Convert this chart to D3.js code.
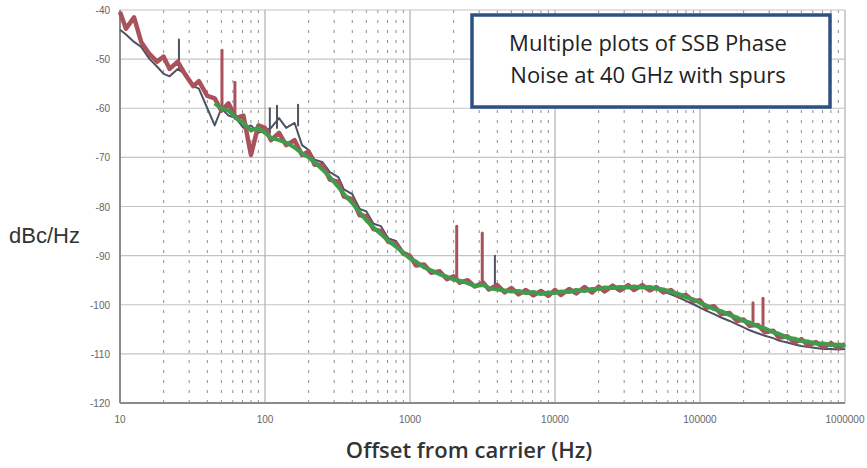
<!DOCTYPE html>
<html>
<head>
<meta charset="utf-8">
<script src="https://cdn.jsdelivr.net/npm/d3@7"></script>
<style>
  body { margin: 0; background: #fff; }
  svg { display: block; }
</style>
</head>
<body>
<div id="chart"></div>
<script>
// Offset frequencies (Hz) shared by all traces
const freqs = [
  10, 11, 12.5, 14, 16, 18, 20, 22, 25, 28, 32, 35, 40, 45, 50, 56, 63, 71, 80, 90,
  100, 110, 125, 140, 160, 180, 200, 220, 250, 280, 320, 350, 400, 450, 500, 560, 630, 710, 800, 900,
  1000, 1100, 1250, 1400, 1600, 1800, 2000, 2200, 2500, 2800, 3200, 3500, 4000, 4500, 5000, 5600, 6300, 7100, 8000, 9000,
  10000, 11000, 12500, 14000, 16000, 18000, 20000, 22000, 25000, 28000, 32000, 35000, 40000, 45000, 50000, 56000, 63000, 71000, 80000, 90000,
  100000, 110000, 125000, 140000, 160000, 180000, 200000, 220000, 250000, 280000, 320000, 350000, 400000, 450000, 500000, 560000, 630000, 710000, 800000, 900000,
  1000000
];

// dBc/Hz per trace
const greyTrace = [
  -44, -45, -46.5, -47.5, -50, -51.5, -53, -53.5, -52, -53, -55.5, -56, -60, -63.5, -60, -61.5, -62, -64, -63.5, -65,
  -64.5, -64, -62, -64, -63, -67.5, -68.5, -70.5, -71, -73, -74, -76.5, -77.5, -80.5, -81, -83.5, -84, -86.5, -87, -89.2,
  -89.8, -91.4, -91.9, -93.3, -93, -94.8, -94.5, -95.6, -95.4, -96, -96.1, -96.5, -96.8, -97.1, -97.3, -97.5, -97.7, -97.8, -97.8, -97.9,
  -97.6, -97.5, -97.3, -97.2, -97, -96.9, -96.8, -96.7, -96.6, -96.5, -96.5, -96.4, -96.5, -96.6, -96.9, -97.3, -97.9, -98.5, -99.2, -99.9,
  -100.6, -101.2, -101.9, -102.6, -103.3, -104, -104.6, -105.2, -105.8, -106.3, -106.8, -107.3, -107.7, -108.1, -108.4, -108.6, -108.8, -109, -109, -109.1,
  -109
];

const redTrace = [
  -40.4, -43.8, -41.5, -46.5, -49, -50.5, -49.5, -52, -50.5, -53, -55.5, -54.5, -57.5, -58, -60.5, -59, -62, -61.5, -69.5, -63.5,
  -64, -66.5, -65, -67.5, -66.5, -69.5, -68.8, -71.5, -71.5, -74.5, -75, -78, -78.5, -81.8, -82, -84.6, -85, -87.2, -87.6, -89.6,
  -90.1, -92, -91.8, -93.5, -93.2, -94.8, -94.2, -95.5, -95, -96.3, -95.5, -96.9, -96, -97.5, -96.6, -97.9, -97, -98.1, -97.2, -98.2,
  -97, -98, -96.8, -97.7, -96.4, -97.5, -96.3, -97.3, -96.1, -97.1, -96, -97, -96, -97.1, -96.4, -97.5, -97, -98.3, -98, -99.3,
  -99.1, -100.6, -100.3, -101.9, -101.7, -103.3, -103, -104.3, -104.1, -105.6, -105.3, -106.7, -106.4, -107.7, -107, -108.3, -107.6, -108.7, -107.8, -108.8,
  -108
];

const greenTrace = [
  null, null, null, null, null, null, null, null, null, null, null, null, null, -59, -60, -60.5, -62, -63, -64.5, -64,
  -65, -66, -66.5, -67, -68, -69.2, -70, -71, -72.5, -74, -76, -77.5, -79.3, -81.2, -82.8, -84.3, -85.6, -87, -88.2, -89.4,
  -90.6, -91.2, -92.4, -93, -93.8, -94.3, -94.9, -95.1, -95.6, -96.2, -96, -96.6, -96.9, -97.1, -97.3, -97.2, -97.6, -97.4, -97.8, -97.5,
  -97.6, -97.3, -97.4, -97, -97.2, -96.8, -96.8, -96.5, -96.6, -96.4, -96.5, -96.3, -96.5, -96.4, -96.7, -96.9, -97.4, -97.8, -98.5, -98.9,
  -99.6, -100.1, -100.9, -101.3, -102.1, -102.6, -103.3, -103.6, -104.4, -104.8, -105.6, -105.9, -106.7, -106.9, -107.4, -107.5, -107.9, -107.9, -108.2, -108.1,
  -108.3
];

// spurs: [frequency, floor level, peak level]
const greySpurs = [[25.5, -52, -46], [108, -65, -60], [121, -64, -59.5], [169, -63.5, -59.3], [3850, -96.4, -90]];
const redSpurs = [[50.5, -59.5, -48.2], [62, -61, -54.7], [2100, -94.8, -84], [3150, -95.8, -85.4], [232000, -104, -99.6], [272000, -104.8, -98.7]];

const yTicks = [-40, -50, -60, -70, -80, -90, -100, -110, -120];
const xTicks = [10, 100, 1000, 10000, 100000, 1000000];

const width = 867, height = 468;
const plotLeft = 120, plotRight = 845, plotTop = 10, plotBottom = 403;

const svg = d3.select("#chart").append("svg")
    .attr("width", width)
    .attr("height", height);

const x = d3.scaleLog().domain([10, 1000000]).range([plotLeft, plotRight]);
const y = d3.scaleLinear().domain([-120, -40]).range([plotBottom, plotTop]);

// minor vertical grid (2..9 per decade), dotted
const minor = [];
xTicks.slice(0, -1).forEach(d => {
    for (let k = 2; k <= 9; k++) minor.push(d * k);
});
svg.append("g").selectAll("line").data(minor).join("line")
    .attr("x1", d => x(d)).attr("x2", d => x(d))
    .attr("y1", plotTop).attr("y2", plotBottom)
    .style("stroke", "#8e8e8e")
    .style("stroke-width", 1)
    .style("stroke-dasharray", "3,7");

// major grid
svg.append("g").selectAll("line").data(yTicks).join("line")
    .attr("x1", plotLeft).attr("x2", plotRight)
    .attr("y1", d => y(d)).attr("y2", d => y(d))
    .style("stroke", "#c4c4c4")
    .style("stroke-width", 1.2);
svg.append("g").selectAll("line").data(xTicks).join("line")
    .attr("x1", d => x(d)).attr("x2", d => x(d))
    .attr("y1", plotTop).attr("y2", plotBottom)
    .style("stroke", "#b0b0b0")
    .style("stroke-width", 1.2);

// axes lines
svg.append("line").attr("x1", plotLeft).attr("x2", plotLeft).attr("y1", plotTop).attr("y2", plotBottom)
    .style("stroke", "#8a8a8a").style("stroke-width", 2);
svg.append("line").attr("x1", plotLeft).attr("x2", plotRight).attr("y1", plotBottom).attr("y2", plotBottom)
    .style("stroke", "#8a8a8a").style("stroke-width", 2);

// tick labels
svg.append("g").selectAll("text").data(yTicks).join("text")
    .attr("x", plotLeft - 10)
    .attr("y", d => y(d) + 4)
    .attr("text-anchor", "end")
    .text(d => d)
    .style("font-family", "Liberation Sans, Arial, sans-serif")
    .style("font-size", "10px")
    .style("fill", "#666");
svg.append("g").selectAll("text").data(xTicks).join("text")
    .attr("x", d => x(d))
    .attr("y", plotBottom + 20)
    .attr("text-anchor", "middle")
    .text(d => d)
    .style("font-family", "Liberation Sans, Arial, sans-serif")
    .style("font-size", "10px")
    .style("fill", "#666");

// traces
const line = d3.line()
    .defined(d => d[1] !== null)
    .x(d => x(d[0]))
    .y(d => y(d[1]));

function drawTrace(values, color, w) {
    svg.append("path")
        .datum(freqs.map((f, i) => [f, values[i]]))
        .attr("d", line)
        .style("fill", "none")
        .style("stroke", color)
        .style("stroke-width", w)
        .style("stroke-linejoin", "round");
}

function drawSpurs(spurs, color, w) {
    svg.append("g").selectAll("line").data(spurs).join("line")
        .attr("x1", d => x(d[0])).attr("x2", d => x(d[0]))
        .attr("y1", d => y(d[1])).attr("y2", d => y(d[2]))
        .style("stroke", color)
        .style("stroke-width", w)
        .style("stroke-linecap", "round");
}

drawTrace(greyTrace, "#4e5262", 2);
drawSpurs(greySpurs, "#4e5262", 2);
drawTrace(redTrace, "#a9525b", 4.5);
drawSpurs(redSpurs, "#a9525b", 3);
drawTrace(greenTrace, "#3f9c4c", 4);

// axis titles
svg.append("text")
    .attr("x", 9)
    .attr("y", 243)
    .text("dBc/Hz")
    .style("font-family", "Liberation Sans, Arial, sans-serif")
    .style("font-size", "22px")
    .style("fill", "#333");

svg.append("text")
    .attr("x", 469)
    .attr("y", 458)
    .attr("text-anchor", "middle")
    .text("Offset from carrier (Hz)")
    .style("font-family", "Open Sans, sans-serif")
    .style("font-size", "22px")
    .style("font-weight", "600")
    .style("fill", "#333");

// annotation box
svg.append("rect")
    .attr("x", 472).attr("y", 15)
    .attr("width", 358).attr("height", 92)
    .style("fill", "#fff")
    .style("stroke", "#2e5184")
    .style("stroke-width", 3.5);

const boxLines = ["Multiple plots of SSB Phase", "Noise at 40 GHz with spurs"];
svg.append("g").selectAll("text").data(boxLines).join("text")
    .attr("x", 648)
    .attr("y", (d, i) => 51 + i * 32)
    .attr("text-anchor", "middle")
    .text(d => d)
    .style("font-family", "Open Sans, sans-serif")
    .style("font-size", "22px")
    .style("fill", "#222");
</script>
</body>
</html>
